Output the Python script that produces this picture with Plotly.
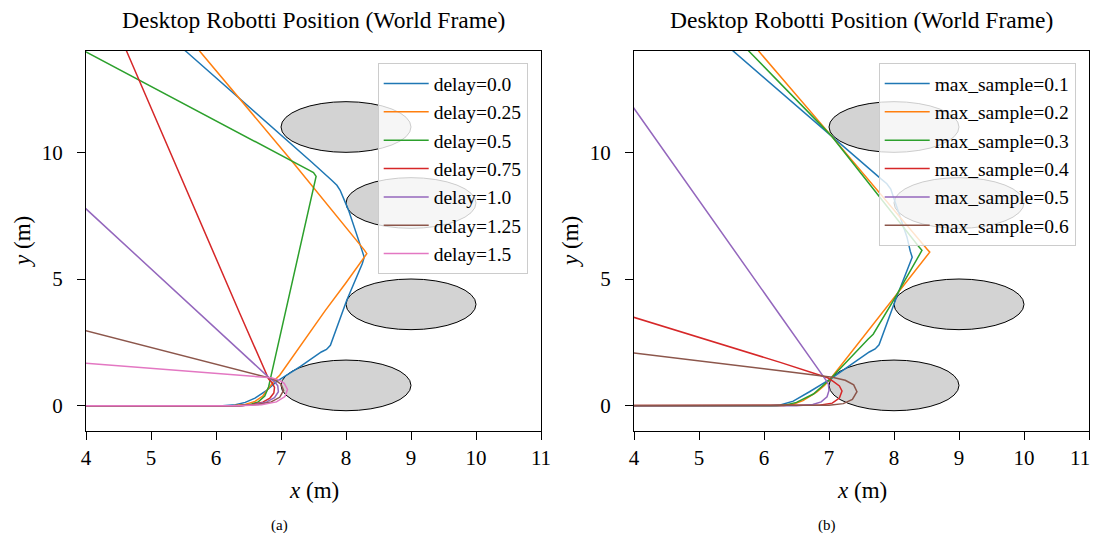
import plotly.graph_objects as go

# ---------------- data ----------------
obstacle_x = [8, 9, 9, 8]
obstacle_y = [11, 8, 4, 0.8]
obstacle_r = [1, 1, 1, 1]

x_ticks = [4, 5, 6, 7, 8, 9, 10, 11]
x_ticktext = ["4", "5", "6", "7", "8", "9", "10", "11"]
y_ticks = [0, 5, 10]

palette = ["#1f77b4", "#ff7f0e", "#2ca02c", "#d62728", "#9467bd", "#8c564b", "#e377c2"]

# (a) delay sweep
delay_labels = ["delay=0.0", "delay=0.25", "delay=0.5", "delay=0.75", "delay=1.0", "delay=1.25", "delay=1.5"]

d00_x = [3.0, 6.1, 6.3, 6.45, 6.6, 6.78, 6.93, 7.3, 7.62, 7.7, 7.76, 8.01, 8.25, 8.28, 8.25, 8.04, 7.91, 7.86, 7.78, 7.47, 5.55, 5.3]
d00_y = [0, 0, 0.04, 0.13, 0.3, 0.6, 0.95, 1.55, 2.12, 2.22, 2.38, 4.15, 5.6, 5.86, 6.1, 7.71, 8.5, 8.7, 8.9, 9.62, 13.96, 14.5]

d025_x = [3.0, 6.25, 6.45, 6.6, 6.72, 6.82, 6.9, 6.98, 7.68, 8.0, 8.27, 8.32, 8.28, 7.16, 5.76, 5.6]
d025_y = [0, 0, 0.05, 0.17, 0.38, 0.7, 1.0, 1.2, 3.75, 4.85, 5.8, 6.0, 6.15, 9.68, 13.96, 14.5]

d05_x = [3.0, 6.35, 6.52, 6.65, 6.75, 6.81, 6.84, 7.11, 7.53, 7.54, 7.5, 7.43, 4.0, 3.5]
d05_y = [0, 0, 0.04, 0.15, 0.38, 0.75, 1.1, 4.15, 8.85, 9.05, 9.2, 9.3, 13.96, 14.64]

d075_x = [3.0, 6.35, 6.55, 6.72, 6.83, 6.89, 6.9, 6.86, 6.81, 6.37, 4.63, 4.54]
d075_y = [0, 0, 0.04, 0.14, 0.3, 0.5, 0.72, 0.92, 1.05, 3.62, 13.96, 14.5]

d10_x = [3.0, 6.35, 6.6, 6.78, 6.9, 6.96, 6.95, 6.9, 6.84, 4.0, 3.5]
d10_y = [0, 0, 0.05, 0.15, 0.32, 0.55, 0.78, 0.95, 1.05, 7.77, 8.95]

d125_x = [3.0, 6.35, 6.65, 6.85, 6.98, 7.04, 7.0, 6.92, 6.84, 4.0, 3.5]
d125_y = [0, 0, 0.05, 0.15, 0.33, 0.6, 0.85, 1.0, 1.08, 2.96, 3.29]

d15_x = [3.0, 6.35, 6.7, 6.93, 7.06, 7.1, 7.05, 6.96, 6.85, 4.0, 3.5]
d15_y = [0, 0, 0.04, 0.15, 0.36, 0.64, 0.88, 1.02, 1.1, 1.67, 1.77]

# (b) max_sample sweep
sample_labels = ["max_sample=0.1", "max_sample=0.2", "max_sample=0.3", "max_sample=0.4", "max_sample=0.5", "max_sample=0.6"]

s01_x = [3.0, 6.1, 6.25, 6.45, 6.7, 7.02, 7.3, 7.62, 7.71, 7.77, 8.02, 8.25, 8.28, 8.25, 8.2, 7.95, 7.89, 7.8, 7.03, 5.55, 5.3]
s01_y = [0, 0, 0.03, 0.18, 0.55, 1.05, 1.55, 2.12, 2.24, 2.4, 4.15, 5.6, 5.86, 6.1, 6.65, 8.55, 8.76, 8.95, 10.67, 13.96, 14.5]

s02_x = [3.0, 6.3, 6.45, 6.6, 6.81, 6.93, 7.02, 7.96, 8.5, 8.55, 8.5, 7.03, 5.93, 5.75]
s02_y = [0, 0, 0.06, 0.2, 0.53, 0.8, 1.05, 4.15, 5.92, 6.06, 6.2, 10.67, 13.96, 14.5]

s03_x = [3.0, 6.2, 6.35, 6.5, 6.76, 7.02, 7.6, 7.68, 7.99, 8.4, 8.43, 8.38, 7.03, 5.78, 5.58]
s03_y = [0, 0, 0.04, 0.13, 0.46, 1.05, 2.62, 2.82, 4.15, 6.0, 6.13, 6.28, 10.67, 13.96, 14.5]

s04_x = [3.0, 6.5, 6.85, 7.05, 7.16, 7.2, 7.16, 7.07, 6.98, 6.25, 4.0, 3.5]
s04_y = [0, 0, 0.02, 0.1, 0.3, 0.58, 0.78, 0.95, 1.1, 1.71, 3.49, 3.88]

s05_x = [3.0, 6.5, 6.75, 6.88, 6.97, 7.0, 6.99, 6.95, 6.25, 4.0, 3.5]
s05_y = [0, 0, 0.05, 0.15, 0.35, 0.6, 0.86, 1.02, 3.56, 11.73, 13.55]

s06_x = [3.0, 6.6, 7.0, 7.22, 7.36, 7.43, 7.38, 7.25, 7.05, 6.25, 4.0, 3.5]
s06_y = [0, 0, 0.02, 0.08, 0.25, 0.55, 0.82, 1.0, 1.12, 1.38, 2.08, 2.24]

delay_x = [d00_x, d025_x, d05_x, d075_x, d10_x, d125_x, d15_x]
delay_y = [d00_y, d025_y, d05_y, d075_y, d10_y, d125_y, d15_y]
sample_x = [s01_x, s02_x, s03_x, s04_x, s05_x, s06_x]
sample_y = [s01_y, s02_y, s03_y, s04_y, s05_y, s06_y]

# ---------------- figure ----------------
FONT = "Liberation Serif, Times New Roman, serif"
fig = go.Figure()

for i, lab in enumerate(delay_labels):
    fig.add_trace(go.Scatter(x=delay_x[i], y=delay_y[i], mode="lines", name=lab,
                             line=dict(color=palette[i], width=1.5),
                             xaxis="x", yaxis="y", legend="legend"))
for i, lab in enumerate(sample_labels):
    fig.add_trace(go.Scatter(x=sample_x[i], y=sample_y[i], mode="lines", name=lab,
                             line=dict(color=palette[i], width=1.5),
                             xaxis="x2", yaxis="y2", legend="legend2"))

shapes = []
for xr, yr in (("x", "y"), ("x2", "y2")):
    for cx, cy, r in zip(obstacle_x, obstacle_y, obstacle_r):
        shapes.append(dict(type="circle", xref=xr, yref=yr, x0=cx - r, x1=cx + r,
                           y0=cy - r, y1=cy + r, fillcolor="#d3d3d3",
                           line=dict(color="black", width=1), layer="below"))

# the page body has an 8px margin, so the figure is offset by 8px
OFF = 8
W, H = 1099 - OFF, 541 - 2 * OFF
def px(v):
    return (v - OFF) / W
def py(v):
    return 1 - (v - OFF) / H

axis_common = dict(range=[4, 11], tickvals=x_ticks, showgrid=False, zeroline=False,
                   showline=True, linecolor="black", linewidth=1, mirror=True,
                   ticks="outside", ticklen=8, tickcolor="black", automargin=False,
                   ticklabelstandoff=0, ticklabeloverflow="allow",
                   tickfont=dict(family=FONT, size=21, color="black"))
yaxis_common = dict(range=[-1, 14], tickvals=y_ticks, showgrid=False, zeroline=False,
                    showline=True, linecolor="black", linewidth=1, mirror=True,
                    ticks="outside", ticklen=8, tickcolor="black", automargin=False,
                    ticklabelstandoff=10, ticklabeloverflow="allow",
                    tickfont=dict(family=FONT, size=21, color="black"))

legend_common = dict(bgcolor="rgba(255,255,255,0.8)", bordercolor="#cccccc", borderwidth=1,
                     font=dict(family=FONT, size=19.5, color="black"),
                     itemwidth=45,
                     xanchor="right", yanchor="top")

title_txt = "Desktop Robotti Position (World Frame)"
ann = []
for cx, cap, ylx in ((313.5, "(a)", 22), (861.5, "(b)", 570)):
    ann.append(dict(text=title_txt, x=px(cx), y=py(20), xref="paper", yref="paper",
                    showarrow=False, font=dict(family=FONT, size=23.5, color="black"),
                    xanchor="center", yanchor="middle", borderpad=0))
    ann.append(dict(text="<i>x</i> (m)", x=px(cx), y=py(490), xref="paper", yref="paper",
                    showarrow=False, font=dict(family=FONT, size=23, color="black"),
                    xanchor="center", yanchor="middle"))
    ann.append(dict(text="<i>y</i> (m)", x=px(ylx), y=py(242), xref="paper", yref="paper",
                    showarrow=False, textangle=-90, font=dict(family=FONT, size=23, color="black"),
                    xanchor="center", yanchor="middle"))
    ann.append(dict(text=cap, x=px(cx - 34.5), y=py(525), xref="paper", yref="paper",
                    showarrow=False, font=dict(family=FONT, size=15, color="black"),
                    xanchor="center", yanchor="middle", borderpad=0))

# last tick label of the right panel sits at the page edge: draw it right-aligned
ann.append(dict(text=x_ticktext[-1], x=x_ticks[-1], xref="x2", y=py(458), yref="paper",
                showarrow=False, font=dict(family=FONT, size=21, color="black"),
                xanchor="right", yanchor="middle", borderpad=0, xshift=2))
x2_ticktext = x_ticktext[:-1] + [""]

fig.update_layout(
    width=W, height=H,
    margin=dict(l=0, r=0, t=0, b=0, autoexpand=False),
    paper_bgcolor="white", plot_bgcolor="white",
    xaxis=dict(domain=[px(86), px(541)], anchor="y", ticktext=x_ticktext, **axis_common),
    yaxis=dict(domain=[py(431), py(51)], anchor="x", **yaxis_common),
    xaxis2=dict(domain=[px(634), px(1089)], anchor="y2", ticktext=x2_ticktext, **axis_common),
    yaxis2=dict(domain=[py(431), py(51)], anchor="x2", **yaxis_common),
    legend=dict(x=px(527.7), y=py(63.3), **legend_common),
    legend2=dict(x=px(1075.7), y=py(63.3), **legend_common),
    shapes=shapes,
    annotations=ann,
    font=dict(family=FONT, color="black"),
)

fig.write_html("out.html")
